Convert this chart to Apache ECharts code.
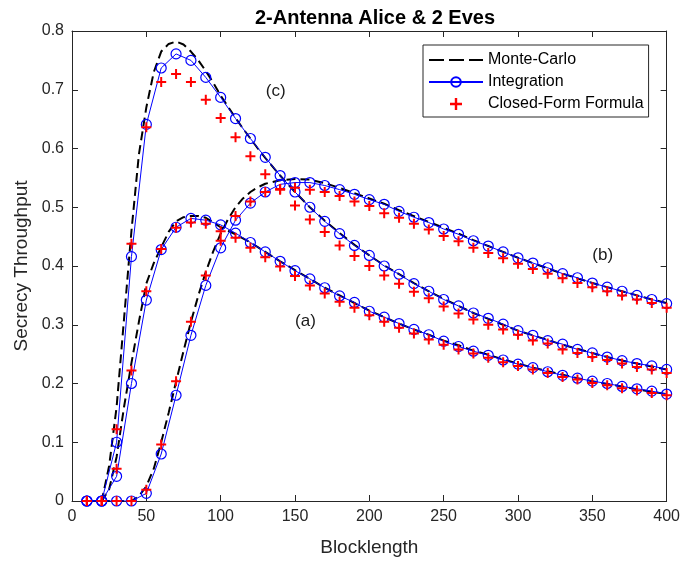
<!DOCTYPE html>
<html><head><meta charset="utf-8">
<script src="https://cdn.jsdelivr.net/npm/echarts@6/dist/echarts.min.js"></script>
<style>html,body{margin:0;padding:0;background:#fff}#c{width:683px;height:563px}</style>
</head><body><div id="c"></div>
<script>
// x positions of Integration / Closed-Form samples
const xInt = [10,20,30,40,50,60,70,80,90,100,110,120,130,140,150,160,170,180,190,200,210,220,230,240,250,260,270,280,290,300,310,320,330,340,350,360,370,380,390,400];
// Integration (blue circles)
const intA = [0,0,0.042,0.2,0.342,0.428,0.466,0.481,0.478,0.47,0.456,0.44,0.424,0.408,0.392,0.378,0.363,0.349,0.338,0.323,0.313,0.302,0.292,0.283,0.272,0.263,0.255,0.248,0.24,0.233,0.227,0.22,0.214,0.209,0.204,0.2,0.195,0.191,0.187,0.182];
const intB = [0,0,0,0,0.013,0.08,0.18,0.282,0.367,0.431,0.478,0.507,0.526,0.539,0.542,0.542,0.537,0.53,0.522,0.513,0.505,0.493,0.483,0.474,0.463,0.454,0.443,0.434,0.424,0.414,0.405,0.397,0.387,0.38,0.371,0.364,0.357,0.35,0.343,0.336];
const intC = [0,0,0.1,0.416,0.641,0.737,0.761,0.75,0.721,0.687,0.651,0.617,0.585,0.554,0.526,0.5,0.476,0.455,0.435,0.418,0.4,0.386,0.37,0.357,0.343,0.332,0.32,0.311,0.301,0.29,0.282,0.273,0.267,0.258,0.252,0.245,0.239,0.234,0.23,0.224];
// Closed-form formula (red plus)
const cfA = [0,0,0.055,0.222,0.357,0.429,0.465,0.474,0.472,0.459,0.448,0.431,0.415,0.399,0.383,0.367,0.353,0.339,0.329,0.316,0.305,0.295,0.285,0.275,0.266,0.258,0.251,0.244,0.236,0.23,0.224,0.218,0.211,0.207,0.201,0.197,0.192,0.188,0.184,0.18];
const cfB = [0,0,0,0,0.019,0.096,0.204,0.305,0.384,0.443,0.485,0.51,0.526,0.531,0.533,0.53,0.526,0.519,0.51,0.502,0.49,0.482,0.472,0.462,0.451,0.442,0.431,0.422,0.413,0.404,0.395,0.387,0.379,0.371,0.364,0.357,0.35,0.343,0.337,0.329];
const cfC = [0,0,0.122,0.438,0.636,0.713,0.727,0.713,0.683,0.652,0.619,0.587,0.556,0.53,0.503,0.479,0.458,0.435,0.417,0.4,0.384,0.37,0.356,0.345,0.331,0.319,0.309,0.3,0.292,0.283,0.273,0.268,0.258,0.252,0.245,0.24,0.234,0.228,0.224,0.218];
// Monte-Carlo (black dashed)
const xMC = [10,15,20,25,30,35,40,45,50,55,60,65,70,75,80,85,90,95,100,105,110,115,120,125,130,140,150,160,170,180,190,200,210,220,230,240,250,260,270,280,290,300,310,320,330,340,350,360,370,380,390,400];
const mcA = [0,0,0,0.02,0.075,0.16,0.235,0.305,0.37,0.405,0.432,0.458,0.476,0.483,0.485,0.485,0.482,0.474,0.466,0.46,0.454,0.447,0.44,0.432,0.424,0.408,0.393,0.378,0.363,0.35,0.337,0.324,0.313,0.302,0.292,0.283,0.273,0.265,0.256,0.249,0.241,0.234,0.227,0.221,0.215,0.209,0.204,0.199,0.195,0.19,0.186,0.182];
const mcB = [0,0,0,0,0,0,0,0.008,0.025,0.055,0.1,0.15,0.203,0.255,0.305,0.35,0.39,0.425,0.455,0.48,0.5,0.515,0.526,0.534,0.54,0.546,0.548,0.547,0.541,0.533,0.524,0.515,0.506,0.495,0.485,0.475,0.465,0.455,0.444,0.434,0.424,0.414,0.405,0.396,0.387,0.379,0.371,0.364,0.357,0.35,0.343,0.337];
const mcC = [0,0,0,0.06,0.16,0.31,0.46,0.59,0.67,0.73,0.765,0.778,0.782,0.777,0.765,0.75,0.732,0.712,0.69,0.671,0.652,0.634,0.617,0.6,0.584,0.554,0.526,0.5,0.477,0.456,0.436,0.418,0.401,0.386,0.371,0.357,0.344,0.332,0.32,0.31,0.3,0.29,0.282,0.274,0.266,0.259,0.252,0.245,0.239,0.234,0.229,0.224];
// curve annotations
const annText = ['(c)','(b)','(a)'];
const annX = [137,357,157];
const annY = [0.698,0.419,0.306];

const FONT = '"Liberation Sans", Arial, Helvetica, sans-serif';
const AX = '#262626';
const plusPath = 'path://M4,0H6V4H10V6H6V10H4V6H0V4H4Z';
const dashIcon = 'path://M0,0H15V2H0Z M20,0H35V2H20Z M40,0H54V2H40Z';
const pairs = (xs, ys) => xs.map((x, i) => [x, ys[i]]);

const mcSeries = [mcA, mcB, mcC].map(d => ({
  name: 'Monte-Carlo', type: 'line', data: pairs(xMC, d), symbol: 'none',
  lineStyle: { color: '#000', width: 2, type: [9, 5] }, itemStyle: { color: '#000' },
  z: 2, silent: true
}));
const intSeries = [intA, intB, intC].map(d => ({
  name: 'Integration', type: 'line', data: pairs(xInt, d), symbol: 'circle', symbolSize: 10,
  showAllSymbol: true,
  lineStyle: { color: '#0000ff', width: 1 },
  itemStyle: { color: 'rgba(255,255,255,0)', borderColor: '#0000ff', borderWidth: 1.2 },
  z: 3, silent: true
}));
const cfSeries = [cfA, cfB, cfC].map(d => ({
  name: 'Closed-Form Formula', type: 'scatter', data: pairs(xInt, d), symbol: plusPath, symbolSize: 10,
  itemStyle: { color: '#ff0000', opacity: 1 }, z: 4, silent: true
}));
const annSeries = {
  type: 'scatter', symbolSize: 0, silent: true, z: 5,
  itemStyle: { color: '#1a1a1a', opacity: 1 },
  data: annText.map((t, i) => ({ name: t, value: [annX[i], annY[i]] })),
  label: { show: true, position: 'inside', formatter: p => p.name, color: '#1a1a1a',
    textBorderWidth: 0, textBorderColor: 'transparent', fontSize: 17, fontFamily: FONT }
};

const axisCommon = {
  axisLine: { show: true, onZero: false, lineStyle: { color: AX, width: 1 } },
  axisTick: { show: true, inside: true, length: 6, lineStyle: { color: AX } },
  splitLine: { show: false }
};

const chart = echarts.init(document.getElementById('c'), null, { renderer: 'canvas' });
chart.setOption({
  animation: false,
  backgroundColor: '#fff',
  title: {
    text: '2-Antenna Alice & 2 Eves', left: 370, top: 3, textAlign: 'center',
    textStyle: { fontFamily: FONT, fontSize: 20, fontWeight: 'bold', color: '#000' }
  },
  grid: { left: 72, right: 15, top: 31, bottom: 62, containLabel: false },
  legend: {
    data: [{ name: 'Monte-Carlo', icon: dashIcon }, 'Integration', 'Closed-Form Formula'],
    orient: 'vertical', left: 423, top: 45,
    padding: [7, 5, 5, 5], itemWidth: 54, itemHeight: 12, itemGap: 6,
    borderColor: AX, borderWidth: 1, backgroundColor: '#fff',
    textStyle: { fontFamily: FONT, fontSize: 16, color: '#000' },
    selectedMode: false
  },
  xAxis: [
    Object.assign({ type: 'value', min: 0, max: 400, interval: 50, position: 'bottom',
      name: 'Blocklength', nameLocation: 'middle', nameGap: 37,
      nameTextStyle: { fontFamily: FONT, fontSize: 19, color: AX },
      axisLabel: { fontFamily: FONT, fontSize: 16, color: AX, margin: 8 } }, axisCommon),
    Object.assign({ type: 'value', min: 0, max: 400, interval: 50, position: 'top',
      axisLabel: { show: false } }, axisCommon)
  ],
  yAxis: [
    Object.assign({ type: 'value', min: 0, max: 0.8, interval: 0.1, position: 'left',
      name: 'Secrecy Throughput', nameLocation: 'middle', nameGap: 41,
      nameTextStyle: { fontFamily: FONT, fontSize: 19, color: AX },
      axisLabel: { fontFamily: FONT, fontSize: 16, color: AX, margin: 8,
        formatter: v => String(+v.toFixed(1)) } }, axisCommon),
    Object.assign({ type: 'value', min: 0, max: 0.8, interval: 0.1, position: 'right',
      axisLabel: { show: false } }, axisCommon)
  ],
  series: [...mcSeries, ...intSeries, ...cfSeries, annSeries]
});
</script>
</body></html>
